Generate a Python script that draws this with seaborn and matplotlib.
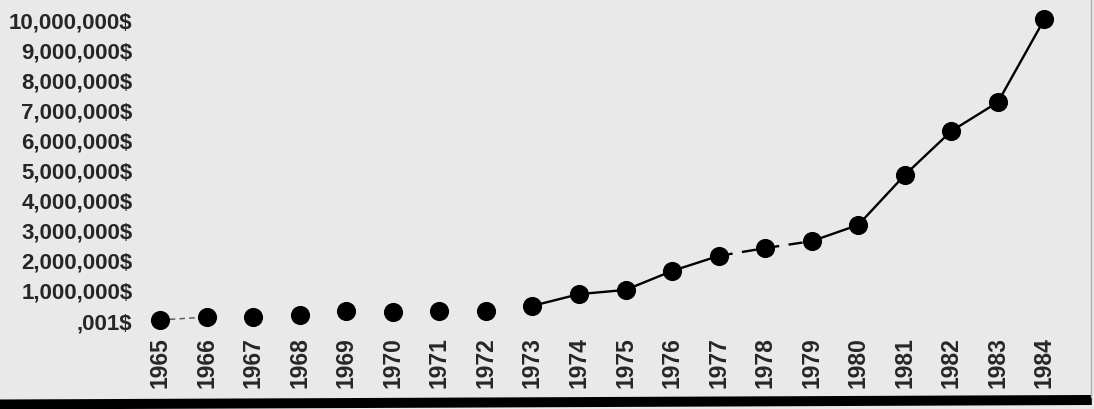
import numpy as np
import pandas as pd
import matplotlib
matplotlib.use("Agg")
import matplotlib.pyplot as plt
import seaborn as sns

# values (dollars)
years = [1965, 1966, 1967, 1968, 1969, 1970, 1971, 1972, 1973, 1974,
         1975, 1976, 1977, 1978, 1979, 1980, 1981, 1982, 1983, 1984]
values = [0.001, 100000, 100000, 170000, 300000, 270000, 300000, 300000, 470000, 860000,
          1000000, 1630000, 2130000, 2390000, 2620000, 3160000, 4820000, 6280000, 7240000, 10000000]
tick_values = [0, 1000000, 2000000, 3000000, 4000000, 5000000,
               6000000, 7000000, 8000000, 9000000, 10000000]
tick_labels = [",001$", "1,000,000$", "2,000,000$", "3,000,000$", "4,000,000$", "5,000,000$",
               "6,000,000$", "7,000,000$", "8,000,000$", "9,000,000$", "10,000,000$"]

df = pd.DataFrame({"year": years, "value": values})

sns.set_theme(style="white")
plt.rcParams["font.family"] = ["Liberation Sans", "DejaVu Sans"]
bg = "#e9e9e9"

fig = plt.figure(figsize=(10.94, 4.10), dpi=100, facecolor=bg)
ax = fig.add_axes([0.125, 0.195, 0.851, 0.778])
ax.set_facecolor(bg)

# connecting lines: solid, dashed middle stretch, solid again (as in the print)
seg_a = df[(df.year >= 1973) & (df.year <= 1977)]
seg_b = df[(df.year >= 1977) & (df.year <= 1979)]
seg_c = df[df.year >= 1979]
sns.lineplot(data=seg_a, x="year", y="value", color="black", linewidth=1.7, ax=ax)
sns.lineplot(data=seg_b, x="year", y="value", color="black", linewidth=1.7,
             linestyle=(0, (6, 4)), ax=ax)
sns.lineplot(data=seg_c, x="year", y="value", color="black", linewidth=1.7, ax=ax)
seg_0 = df[df.year <= 1966]
ax.plot(seg_0.year, seg_0.value, color="#555555", linewidth=1.0,
        linestyle=(0, (4, 3)))

sns.scatterplot(data=df, x="year", y="value", color="black", s=190,
                edgecolor="black", linewidth=0, zorder=5, ax=ax)

ax.set_xlim(1964.5, 1984.5)
ax.set_ylim(-300000, 10300000)
ax.set_xticks(years)
ax.set_xticklabels([str(y) for y in years], rotation=90, fontsize=16.5,
                   fontweight="bold")
ax.set_yticks(tick_values)
ax.set_yticklabels(tick_labels, fontsize=16, fontweight="bold")
ax.tick_params(axis="x", length=0, pad=5)
ax.tick_params(axis="y", length=0, pad=3)
for s in ax.spines.values():
    s.set_visible(False)
ax.set_xlabel("")
ax.set_ylabel("")
ax.grid(False)
if ax.get_legend():
    ax.get_legend().remove()

# thick rule along the bottom and thin right edge of the printed box
fig.add_artist(plt.Line2D([0.0, 0.998], [0.011, 0.022], transform=fig.transFigure,
                          color="black", linewidth=7.2, solid_capstyle="butt"))
fig.add_artist(plt.Line2D([0.9975, 0.9975], [0.03, 1.0], transform=fig.transFigure,
                          color="#b0b0b0", linewidth=1.0))

fig.savefig("out.png", dpi=100, facecolor=bg)
